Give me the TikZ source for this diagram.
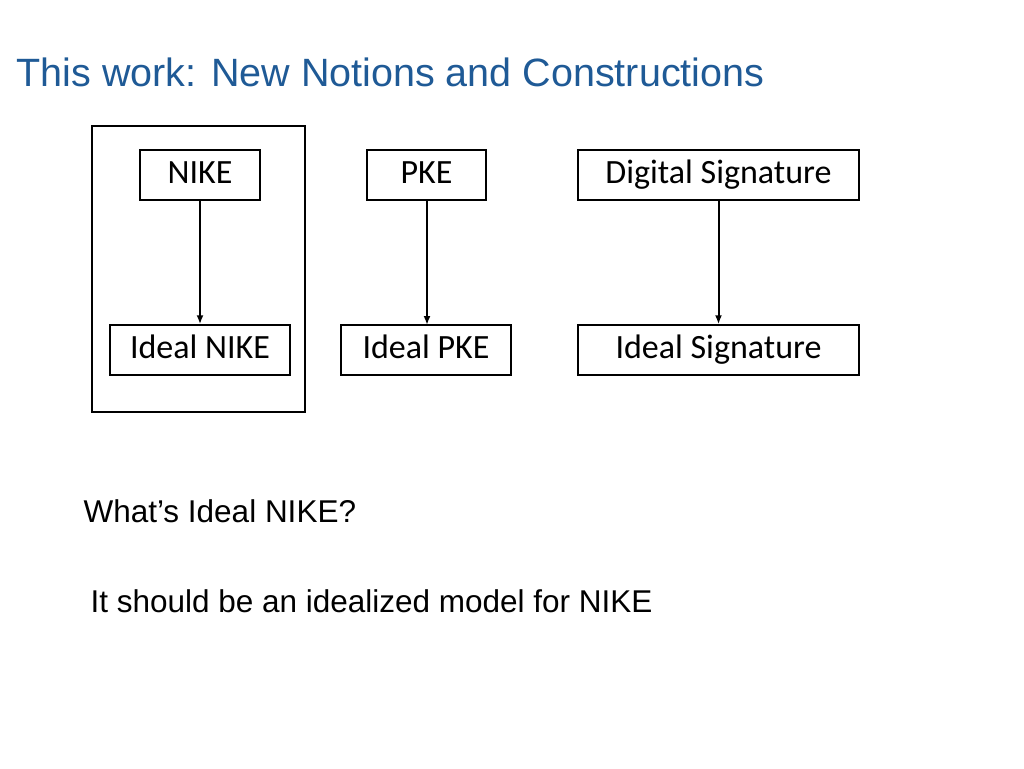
\documentclass[tikz,border=0pt]{standalone}
\usepackage{fontspec}
\usetikzlibrary{arrows.meta}
\setmainfont{Carlito}
\newfontfamily\hv{Liberation Sans}
\definecolor{titleblue}{HTML}{1F5A96}
\begin{document}
\begin{tikzpicture}[x=1pt,y=-1pt,
  bx/.style={draw,line width=1.5pt,minimum height=50pt,inner sep=0pt,text height=22pt,text depth=6pt,font=\fontsize{34}{36}\selectfont},
  ar/.style={-{Latex[length=9pt,width=7pt]},line width=2pt}]
\useasboundingbox (0,0) rectangle (1024,768);
\node[anchor=west,text=titleblue,font=\hv\fontsize{39.5}{42}\selectfont] (t) at (13,72) {This work: New Notions and Constructions};
\draw[line width=1.5pt] (92,126) rectangle (305,412);
\node[bx,minimum width=120pt] (n) at (200,175) {NIKE};
\node[bx,minimum width=119pt] (p) at (426.5,175) {PKE};
\node[bx,minimum width=281pt] (d) at (718.5,175) {Digital Signature};
\node[bx,minimum width=180pt] (in) at (200,350) {Ideal NIKE};
\node[bx,minimum width=170pt] (ip) at (426,350) {Ideal PKE};
\node[bx,minimum width=281pt] (is) at (718.5,350) {Ideal Signature};
\draw[ar] (n.south) -- (in.north);
\draw[ar] (427,200) -- (427,325);
\draw[ar] (d.south) -- (is.north);
\node[anchor=west,font=\hv\fontsize{31.5}{33}\selectfont] (q) at (80,511) {What’s Ideal NIKE?};
\node[anchor=west,font=\hv\fontsize{31.5}{33}\selectfont] (a) at (87,601) {It should be an idealized model for NIKE};
\end{tikzpicture}
\end{document}
